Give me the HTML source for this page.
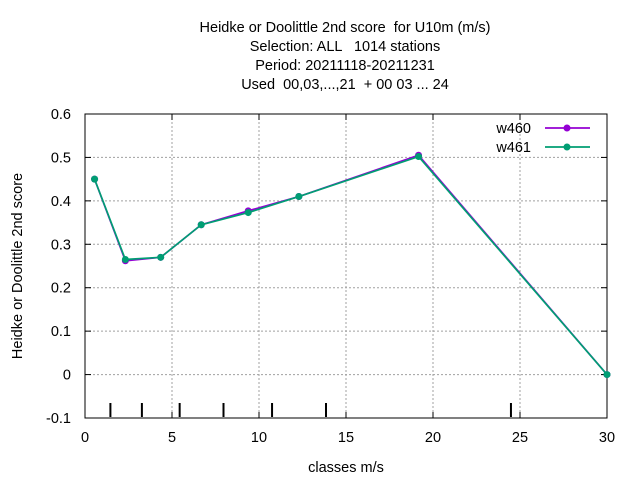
<!DOCTYPE html>
<html><head><meta charset="utf-8"><style>
body{margin:0;background:#fff}
svg{display:block;font-family:"Liberation Sans",sans-serif}
text{white-space:pre}
</style></head><body>
<svg id="c" width="640" height="480">
<g id="title" font-size="14.5" text-anchor="middle" fill="#000">
<text x="345" y="32">Heidke or Doolittle 2nd score  for U10m (m/s)</text>
<text x="345" y="51">Selection: ALL   1014 stations</text>
<text x="345" y="70">Period: 20211118-20211231</text>
<text x="345" y="89">Used  00,03,...,21  + 00 03 ... 24</text>
</g>
<text x="346" y="472" font-size="14.5" text-anchor="middle">classes m/s</text>
<text transform="translate(22,266) rotate(-90)" font-size="14.5" text-anchor="middle">Heidke or Doolittle 2nd score</text>
<g id="grid"></g><g id="axes"></g><g id="marks"></g><g id="legend"></g>
</svg>
<script>
const xTicks=[0,5,10,15,20,25,30];
const yTicks=[-0.1,0,0.1,0.2,0.3,0.4,0.5,0.6];
const classEdges=[1.46,3.27,5.44,7.96,10.75,13.85,24.48];
const xVals=[0.55,2.32,4.35,6.68,9.38,12.29,19.17,30];
const w460=[0.45,0.262,0.27,0.345,0.377,0.41,0.505,0];
const w461=[0.45,0.265,0.27,0.345,0.373,0.41,0.502,0];
const seriesNames=["w460","w461"];
const L=85,R=607,T=114,B=418;
const X=v=>L+(v-0)/(30-0)*(R-L);
const Y=v=>B-(v+0.1)/0.7*(B-T);
const NS="http://www.w3.org/2000/svg";
function mk(p,t,a){const e=document.createElementNS(NS,t);for(const k in a)e.setAttribute(k,a[k]);p.appendChild(e);return e;}
const grid=document.getElementById('grid'),axes=document.getElementById('axes'),marks=document.getElementById('marks'),leg=document.getElementById('legend');
xTicks.forEach(v=>{
  if(v>0&&v<30){const g=mk(grid,'line',{x1:X(v),x2:X(v),y1:T,y2:B,stroke:'#a0a0a0','stroke-dasharray':'2,2'});
  
  }
  mk(axes,'line',{x1:X(v),x2:X(v),y1:B,y2:B-6,stroke:'#000'});
  mk(axes,'line',{x1:X(v),x2:X(v),y1:T,y2:T+6,stroke:'#000'});
  const t=mk(axes,'text',{x:X(v),y:B+24,'font-size':14.5,'text-anchor':'middle'});t.textContent=v;
  
  
});
yTicks.forEach(v=>{
  if(v>-0.1&&v<0.6){const g=mk(grid,'line',{x1:L,x2:R,y1:Y(v),y2:Y(v),stroke:'#a0a0a0','stroke-dasharray':'2,2'});
  
  }
  mk(axes,'line',{x1:L,x2:L+6,y1:Y(v),y2:Y(v),stroke:'#000'});
  mk(axes,'line',{x1:R,x2:R-6,y1:Y(v),y2:Y(v),stroke:'#000'});
  const t=mk(axes,'text',{x:L-14,y:Y(v)+5,'font-size':14.5,'text-anchor':'end'});t.textContent=(Math.round(v*10)/10).toString();
  
  
});
const fr=mk(axes,'rect',{x:L,y:T,width:R-L,height:B-T,fill:'none',stroke:'#000'});


classEdges.forEach(v=>{const l=mk(axes,'line',{x1:X(v),x2:X(v),y1:B-15,y2:B-1,stroke:'#000','stroke-width':2});
  
  });
const cols=["#9400d3","#009e73"];
[w460,w461].forEach((s,i)=>{
  const pts=s.map((v,j)=>X(xVals[j])+','+Y(v)).join(' ');
  const pl=mk(marks,'polyline',{points:pts,fill:'none',stroke:cols[i],'stroke-width':1.7});
  
  
  s.forEach((v,j)=>{const p=mk(marks,'circle',{cx:X(xVals[j]),cy:Y(v),r:3.5,fill:cols[i]});
    
    });
  const ly=128+i*19;
  const t=mk(leg,'text',{x:531,y:ly+5,'font-size':14.5,'text-anchor':'end'});t.textContent=seriesNames[i];
  
  
  const ll=mk(leg,'line',{x1:545,x2:590,y1:ly,y2:ly,stroke:cols[i],'stroke-width':1.7});
  
  
  mk(leg,'circle',{cx:567,cy:ly,r:3.5,fill:cols[i]});
});
</script>
</body></html>
